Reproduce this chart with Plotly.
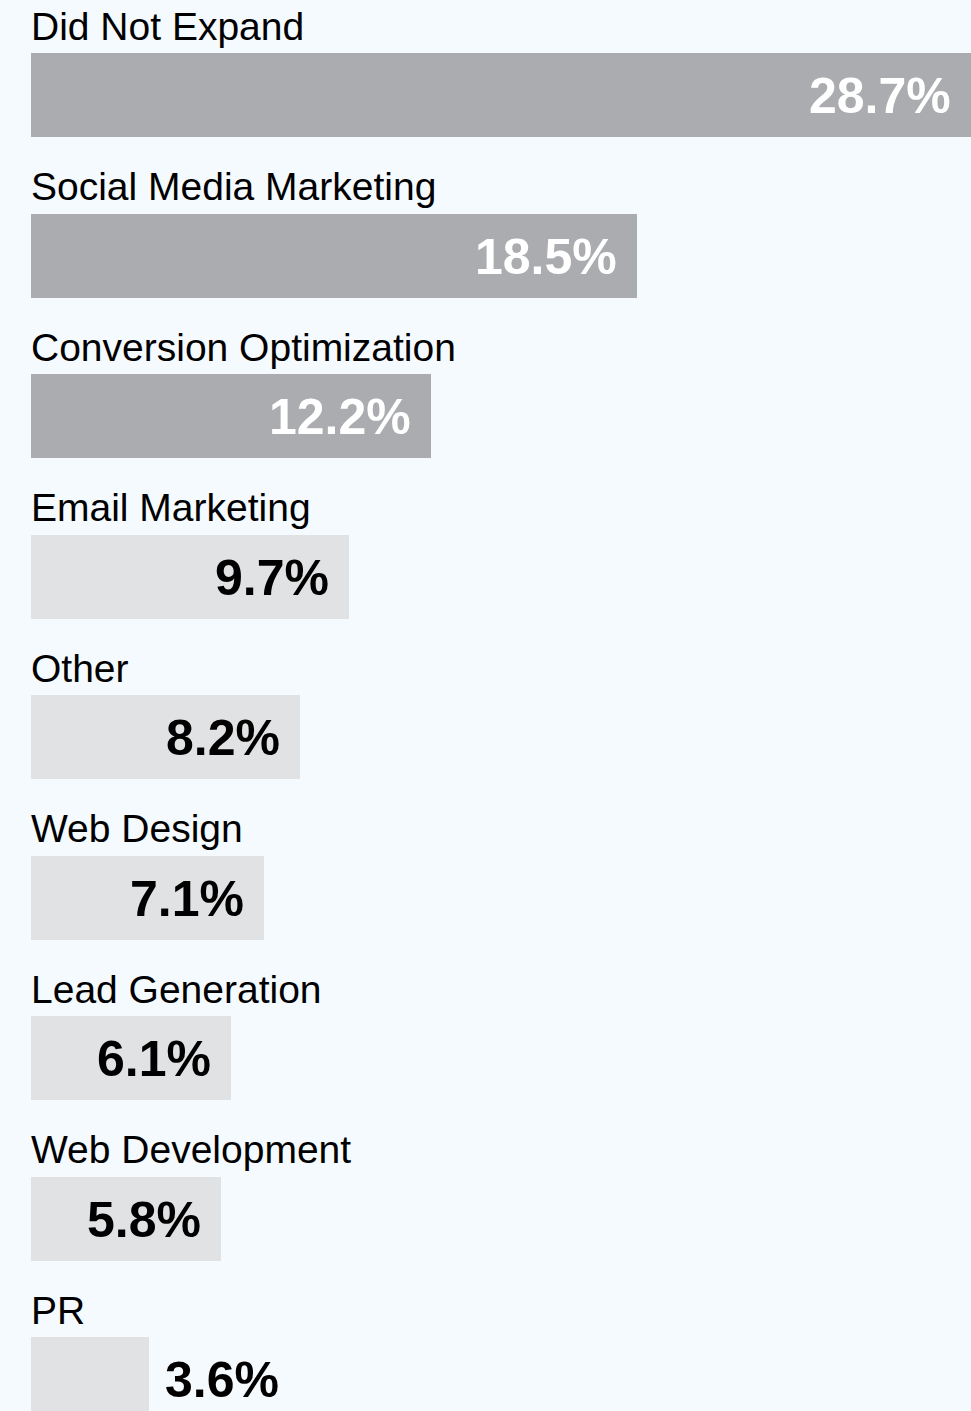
import plotly.graph_objects as go

# Share of agencies by the service they expanded into
categories = [
    "Did Not Expand",
    "Social Media Marketing",
    "Conversion Optimization",
    "Email Marketing",
    "Other",
    "Web Design",
    "Lead Generation",
    "Web Development",
    "PR",
]
values = [28.7, 18.5, 12.2, 9.7, 8.2, 7.1, 6.1, 5.8, 3.6]

DARK_BAR = "#ABACAF"
LIGHT_BAR = "#E1E2E4"
BG = "#F5FAFE"
FONT = "Liberation Sans, Arial, Helvetica, sans-serif"

# the three largest shares are highlighted in the darker grey
bar_colors = [DARK_BAR if i < 3 else LIGHT_BAR for i in range(len(values))]
value_colors = ["#FFFFFF" if i < 3 else "#000000" for i in range(len(values))]

fig = go.Figure(
    go.Bar(
        x=values,
        y=categories,
        orientation="h",
        marker=dict(color=bar_colors, line=dict(width=0)),
        width=0.523,
        hoverinfo="skip",
    )
)

annotations = []
for i, (cat, v) in enumerate(zip(categories, values)):
    # category name sits above its bar
    annotations.append(dict(
        x=0, y=cat, xref="x", yref="y",
        text=cat, showarrow=False,
        xanchor="left", yanchor="middle", yshift=69, xshift=-2,
        font=dict(family=FONT, size=39, color="#000000"),
    ))
    # value label: inside the bar end, or just past it when the bar is too short
    inside = v >= 5
    annotations.append(dict(
        x=v, y=cat, xref="x", yref="y",
        text=f"<b>{v}%</b>", showarrow=False,
        xanchor="right" if inside else "left",
        xshift=-18 if inside else 14,
        yanchor="middle", yshift=-1,
        font=dict(family=FONT, size=50, color=value_colors[i]),
    ))

fig.update_layout(
    width=971,
    height=1411,
    paper_bgcolor=BG,
    plot_bgcolor=BG,
    margin=dict(l=31, r=0, t=0, b=0),
    showlegend=False,
    bargap=0,
    xaxis=dict(range=[0, 28.7], visible=False, fixedrange=True),
    yaxis=dict(
        type="category",
        categoryorder="array",
        categoryarray=categories,
        range=[8.199, -0.592],
        visible=False,
        fixedrange=True,
    ),
    annotations=annotations,
)

fig.write_html("out.html", config={"displayModeBar": False})
